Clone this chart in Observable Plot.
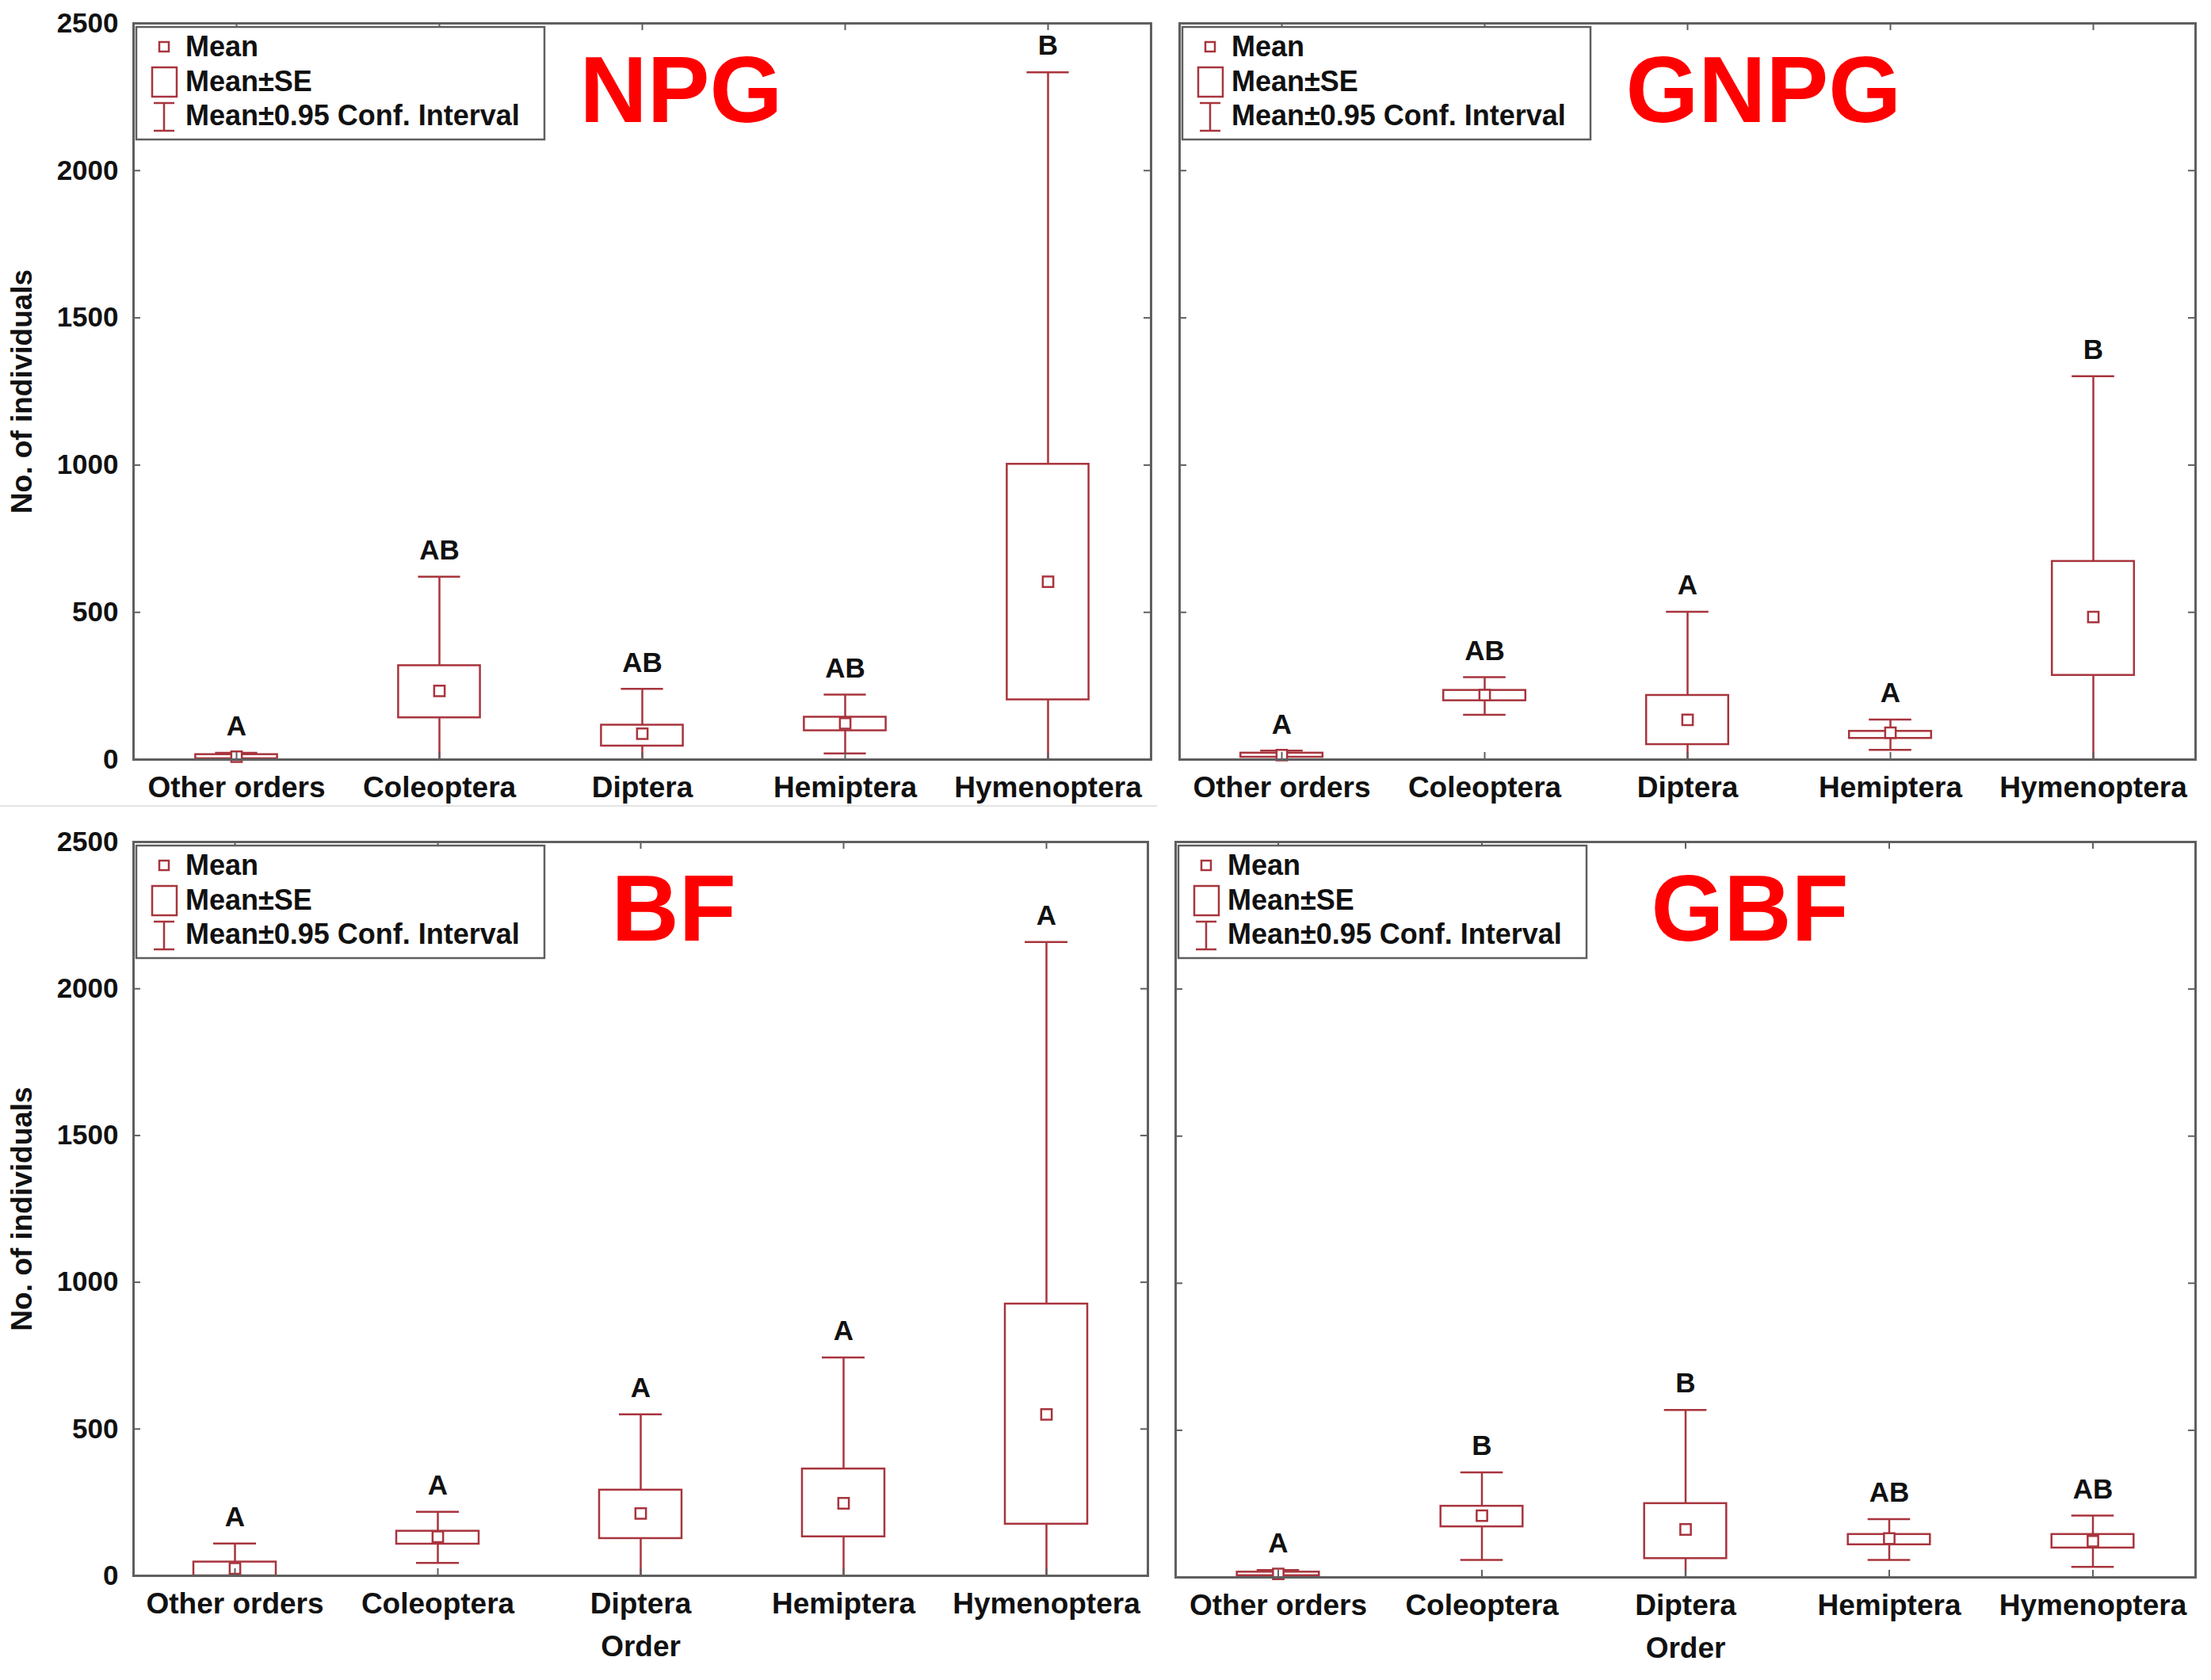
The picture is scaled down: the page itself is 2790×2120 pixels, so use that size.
<!DOCTYPE html>
<html>
<head>
<meta charset="utf-8">
<script src="https://cdn.jsdelivr.net/npm/d3@7"></script>
<script src="https://cdn.jsdelivr.net/npm/@observablehq/plot@0.6"></script>
<style>
  html, body { margin: 0; padding: 0; background: #fff; }
  #page { position: relative; width: 2790px; height: 2120px; background: #fff; overflow: hidden;
          font-family: "Liberation Sans", Arial, sans-serif; }
  .panel { position: absolute; }
  .sep { position: absolute; left: 0; top: 1016px; width: 1460px; height: 2px; background: #e4e4e4; }
</style>
</head>
<body>
<div id="page"><div class="sep"></div></div>
<script>
// ---- data ----
const orders = ["Other orders", "Coleoptera", "Diptera", "Hemiptera", "Hymenoptera"];
const panelNames = ["NPG", "GNPG", "BF", "GBF"];
// rows: NPG, GNPG, BF, GBF ; columns follow `orders`
const meanVals = [
  [10, 233, 88, 123, 604],
  [15, 219, 135, 91, 484],
  [25, 133, 212, 247, 550],
  [12, 210, 163, 132, 123]
];
const seLow = [
  [3, 142, 46, 98, 203],
  [8, 200, 51, 72, 286],
  [0, 108, 127, 133, 176],
  [6, 172, 64, 111, 100]
];
const seHigh = [
  [17, 319, 117, 144, 1003],
  [22, 235, 218, 96, 673],
  [47, 152, 292, 364, 926],
  [18, 242, 251, 146, 146]
];
const ciLow = [
  [0, 0, 0, 21, 0],
  [0, 152, 0, 33, 0],
  [0, 44, 0, 0, 0],
  [0, 59, 0, 59, 36]
];
const ciHigh = [
  [23, 621, 240, 221, 2334],
  [30, 280, 502, 136, 1302],
  [110, 218, 550, 744, 2159],
  [25, 357, 569, 198, 210]
];
const letters = [
  ["A", "AB", "AB", "AB", "B"],
  ["A", "AB", "A", "A", "B"],
  ["A", "A", "A", "A", "A"],
  ["A", "B", "B", "AB", "AB"]
];
const yTicks = [0, 500, 1000, 1500, 2000, 2500];
const yLabel = "No. of individuals";
const xLabel = "Order";
const legendLabels = ["Mean", "Mean\u00B1SE", "Mean\u00B10.95 Conf. Interval"];

// ---- layout ----
const RED = "#a8343d";
const AXIS = "#5f5f5f";
const layouts = [
  {left: 0,    top: 0,    width: 1460, height: 1016, mL: 168, mR: 8,  mT: 29, mB: 58,  yLabels: true,  xTitle: false, titleDx: 563},
  {left: 1460, top: 0,    width: 1330, height: 1016, mL: 28,  mR: 20, mT: 29, mB: 58,  yLabels: false, xTitle: false, titleDx: 563},
  {left: 0,    top: 1020, width: 1460, height: 1100, mL: 168, mR: 12, mT: 42, mB: 132, yLabels: true,  xTitle: true,  titleDx: 603},
  {left: 1460, top: 1020, width: 1330, height: 1100, mL: 23,  mR: 20, mT: 42, mB: 130, yLabels: false, xTitle: true,  titleDx: 600}
];

function legendMark(L) {
  return () => {
    const g = d3.create("svg:g");
    const x0 = L.mL + 4, y0 = L.mT + 5;
    g.append("rect").attr("x", x0).attr("y", y0).attr("width", 515).attr("height", 142)
      .attr("fill", "#fff").attr("stroke", AXIS).attr("stroke-width", 2.5);
    // mean marker
    g.append("rect").attr("x", x0 + 29).attr("y", y0 + 19).attr("width", 12).attr("height", 12)
      .attr("fill", "#fff").attr("stroke", RED).attr("stroke-width", 2.5);
    // SE box
    g.append("rect").attr("x", x0 + 20).attr("y", y0 + 51).attr("width", 31).attr("height", 37)
      .attr("fill", "#fff").attr("stroke", RED).attr("stroke-width", 2.5);
    // CI whisker
    const ci = g.append("g").attr("stroke", RED).attr("stroke-width", 2.5);
    ci.append("line").attr("x1", x0 + 35).attr("x2", x0 + 35).attr("y1", y0 + 96).attr("y2", y0 + 131);
    ci.append("line").attr("x1", x0 + 22).attr("x2", x0 + 48).attr("y1", y0 + 96).attr("y2", y0 + 96);
    ci.append("line").attr("x1", x0 + 22).attr("x2", x0 + 48).attr("y1", y0 + 131).attr("y2", y0 + 131);
    const rows = [24, 68, 111];
    legendLabels.forEach((t, k) => {
      g.append("text").attr("x", x0 + 62).attr("y", y0 + rows[k] + 12.5)
        .attr("text-anchor", "start")
        .attr("font-size", 36).attr("font-weight", "bold").attr("fill", "#111").text(t);
    });
    return g.node();
  };
}

layouts.forEach((L, i) => {
  const data = orders.map((o, j) => ({
    order: o,
    mean: meanVals[i][j],
    seLo: seLow[i][j],
    seHi: seHigh[i][j],
    ciLo: ciLow[i][j],
    ciHi: ciHigh[i][j],
    letter: letters[i][j]
  }));
  const W = L.width - L.mL - L.mR;
  const H = L.height - L.mT - L.mB;
  const band = W / orders.length;
  const capInset = (band - 54) / 2;
  const boxInset = (band - 104) / 2;
  const marks = [
    Plot.ruleX(data, {x: "order", y1: "ciLo", y2: "ciHi", stroke: RED, strokeWidth: 2.5}),
    Plot.tickY(data, {x: "order", y: "ciHi", stroke: RED, strokeWidth: 2.5, insetLeft: capInset, insetRight: capInset}),
    Plot.tickY(data.filter(d => d.ciLo > 0), {x: "order", y: "ciLo", stroke: RED, strokeWidth: 2.5, insetLeft: capInset, insetRight: capInset}),
    Plot.barY(data, {x: "order", y1: "seLo", y2: "seHi", fill: "#fff", stroke: RED, strokeWidth: 2.5, insetLeft: boxInset, insetRight: boxInset}),
    Plot.dot(data, {x: "order", y: "mean", symbol: "square", r: 7.5, fill: "#fff", stroke: RED, strokeWidth: 2.5}),
    Plot.text(data, {x: "order", y: "ciHi", text: "letter", dy: -33, fontSize: 35, fill: "#111"}),
    // inward ticks on the frame
    Plot.tickY(yTicks, {y: d => d, stroke: AXIS, strokeWidth: 2, insetRight: W - 9}),
    Plot.tickY(yTicks, {y: d => d, stroke: AXIS, strokeWidth: 2, insetLeft: W - 9}),
    Plot.tickX(orders, {x: d => d, stroke: AXIS, strokeWidth: 2, insetTop: H - 9}),
    Plot.tickX(orders, {x: d => d, stroke: AXIS, strokeWidth: 2, insetBottom: H - 9}),
    Plot.frame({stroke: AXIS, strokeWidth: 3}),
    Plot.axisX({tickSize: 0, tickPadding: 21, fontSize: 37, label: null, fill: "#111"}),
    Plot.text([panelNames[i]], {frameAnchor: "top-left", dx: L.titleDx, dy: 41, lineAnchor: "top", textAnchor: "start",
      fontSize: 118, fill: "#ff0000"}),
    legendMark(L)
  ];
  if (L.yLabels) {
    marks.push(Plot.axisY(yTicks, {tickSize: 0, tickPadding: 19, fontSize: 35, label: null, fill: "#111", tickFormat: d => String(d)}));
    marks.push(Plot.text([yLabel], {frameAnchor: "left", textAnchor: "middle", dx: -140, rotate: -90, fontSize: 37, fill: "#111"}));
  }
  if (L.xTitle) {
    marks.push(Plot.text([xLabel], {frameAnchor: "bottom", dy: 101, fontSize: 37, fill: "#111"}));
  }
  const chart = Plot.plot({
    width: L.width,
    height: L.height,
    marginLeft: L.mL,
    marginRight: L.mR,
    marginTop: L.mT,
    marginBottom: L.mB,
    x: {type: "band", domain: orders, padding: 0, axis: null},
    y: {domain: [0, 2500], axis: null},
    style: {fontFamily: "'Liberation Sans', Arial, sans-serif", fontWeight: "bold", background: "transparent", overflow: "visible", color: "#111"},
    marks
  });
  const div = document.createElement("div");
  div.className = "panel";
  div.style.left = L.left + "px";
  div.style.top = L.top + "px";
  div.appendChild(chart);
  document.getElementById("page").appendChild(div);
});
</script>
</body>
</html>
